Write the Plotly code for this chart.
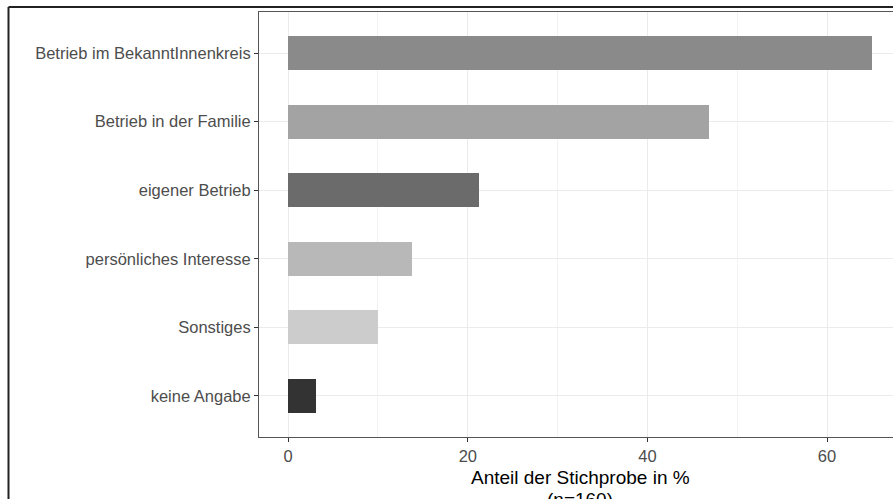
import plotly.graph_objects as go

categories = ["keine Angabe", "Sonstiges", "persönliches Interesse",
              "eigener Betrieb", "Betrieb in der Familie", "Betrieb im BekanntInnenkreis"]
values = [3.125, 10.0, 13.75, 21.25, 46.875, 65.0]
colors = ["#333333", "#cccccc", "#b8b8b8", "#6b6b6b", "#a3a3a3", "#8a8a8a"]
x_ticks = [0, 20, 40, 60]
x_title = "Anteil der Stichprobe in %"
x_subtitle = "(n=160)"

W, H = 893, 499
L, R, T, B = 259, 0, 12, 62

fig = go.Figure(go.Bar(
    x=values, y=categories, orientation="h",
    marker=dict(color=colors, line=dict(width=0)),
    width=0.5,
))

font = "Liberation Sans, Arial, Helvetica, sans-serif"
fig.update_layout(
    width=W, height=H,
    margin=dict(l=L, r=R, t=T, b=B, pad=0),
    paper_bgcolor="white", plot_bgcolor="white",
    showlegend=False,
    font=dict(family=font, color="#4d4d4d", size=16.5),
    bargap=0,
)
fig.update_xaxes(
    range=[-3.25, (W - 288) / ((827 - 288) / 60)],
    tickvals=x_ticks, ticktext=[str(v) for v in x_ticks],
    showgrid=True, gridcolor="#ebebeb", gridwidth=1,
    minor=dict(showgrid=True, dtick=10, tick0=0, gridcolor="#f2f2f2", gridwidth=1),
    showline=True, linecolor="#555555", linewidth=1, mirror=True,
    ticks="outside", ticklen=4, tickcolor="#333333",
    tickfont=dict(size=16.5, color="#4d4d4d"),
    zeroline=False,
)
fig.update_yaxes(
    categoryorder="array", categoryarray=categories,
    range=[-0.6, len(categories) - 0.4],
    showgrid=True, gridcolor="#ebebeb", gridwidth=1,
    showline=True, linecolor="#555555", linewidth=1,
    ticks="outside", ticklen=4, tickcolor="#333333",
    tickfont=dict(size=16.5, color="#4d4d4d"),
    zeroline=False,
)

pw = W - L - R
ph = H - T - B
def px_x(p):
    return (p - L) / pw
def px_y(p):
    return (H - B - p) / ph

fig.add_annotation(
    text=x_title, x=px_x(580), y=px_y(489), xref="paper", yref="paper",
    xanchor="center", yanchor="bottom", showarrow=False, borderpad=0,
    font=dict(size=19, color="black", family=font),
)
fig.add_annotation(
    text=x_subtitle, x=px_x(580), y=px_y(511), xref="paper", yref="paper",
    xanchor="center", yanchor="bottom", showarrow=False, borderpad=0,
    font=dict(size=19, color="black", family=font),
)

# outer border (cropped frame)
fig.add_shape(type="line", xref="paper", yref="paper",
              x0=px_x(8.5), y0=px_y(7), x1=px_x(W + 20), y1=px_y(7),
              line=dict(color="#222222", width=2))
fig.add_shape(type="line", xref="paper", yref="paper",
              x0=px_x(8.5), y0=px_y(7), x1=px_x(8.5), y1=px_y(H + 20),
              line=dict(color="#222222", width=2))

fig.write_html("out.html", config={"displayModeBar": False},
               post_script="document.body.style.margin='0';document.body.style.overflow='hidden';")
